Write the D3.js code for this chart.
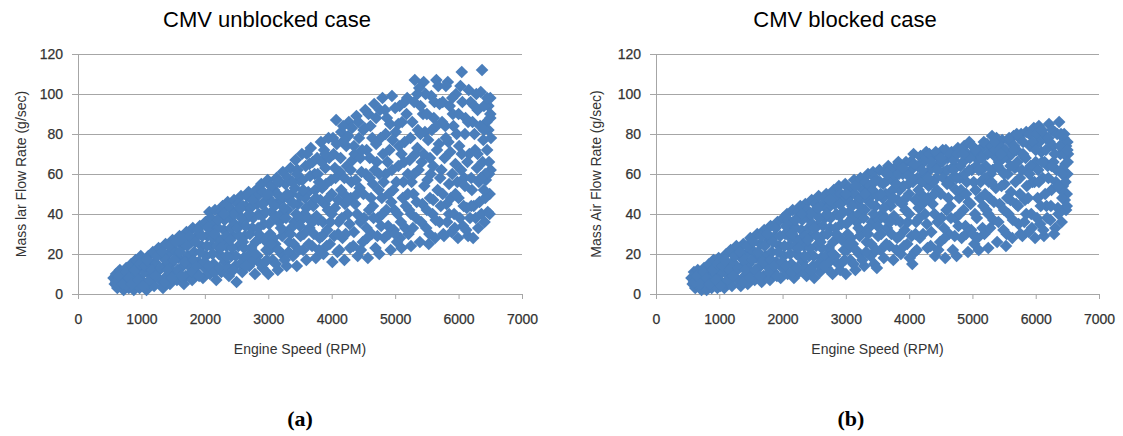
<!DOCTYPE html>
<html>
<head>
<meta charset="utf-8">
<script src="https://cdn.jsdelivr.net/npm/d3@7"></script>
<style>
  body { margin: 0; background: #fff; }
  svg { display: block; }
  .tick text { font-family: 'Liberation Sans', Arial, sans-serif; font-size: 14px; fill: #333; stroke: #333; stroke-width: 0.25px; }
</style>
</head>
<body>
<div id="chart"></div>
<script>
(function(window, d3){
  'use strict';

  var xTicks = [0, 1000, 2000, 3000, 4000, 5000, 6000, 7000];
  var yTicks = [0, 20, 40, 60, 80, 100, 120];
  var panelTitles = ['CMV unblocked case', 'CMV blocked case'];
  var yTitles = ['Mass lar Flow Rate  (g/sec)', 'Mass Air Flow Rate  (g/sec)'];
  var xTitle = 'Engine Speed (RPM)';
  var captions = ['(a)', '(b)'];

  // engine speed (rpm), mass air flow (g/s)
  var unblockedPoints = [
    [560,8],[580,5],[600,10],[620,3],[640,7],[660,12],[680,4],[700,9],
    [720,2],[740,6],[760,13],[780,10],[800,3],[820,7],[840,15],[860,11],[880,2],[900,5],[910,17],[930,9],
    [950,13],[970,3],[990,19],[1000,7],[1030,16],[1050,11],[1080,2],[1100,5],[1110,19],[1140,13],[1160,9],[1180,21],[1200,4],[1210,16],
    [1250,11],[1270,23],[1290,7],[1320,19],[1340,3],[1360,14],[1380,25],[1400,9],[1420,20],[1450,5],[1470,15],[1490,27],[1500,11],[1520,22],
    [1560,7],[1580,18],[1600,29],[1620,13],[1650,24],[1670,5],[1700,9],[1710,31],[1730,19],[1750,14],[1780,26],[1800,7],[1810,33],[1830,21],
    [1860,11],[1880,29],[1900,16],[1920,34],[1950,24],[1970,8],[2000,13],[2010,36],[2020,19],[2040,29],[2070,41],[2080,10],[2100,24],[2110,33],
    [2140,15],[2160,42],[2180,7],[2200,28],[2220,20],[2240,38],[2260,11],[2280,44],[2300,32],[2320,16],[2340,24],[2360,46],[2380,9],[2400,38],
    [2420,19],[2440,29],[2460,47],[2480,14],[2500,6],[2510,41],[2530,24],[2550,34],[2570,49],[2590,11],[2610,18],[2630,29],[2650,44],[2670,38],[2690,51],[2700,14],
    [2730,23],[2750,33],[2770,47],[2790,10],[2810,52],[2830,19],[2850,40],[2870,28],[2890,55],[2910,13],[2930,35],[2950,46],[2970,22],[2990,57],[3000,10],
    [3030,30],[3050,41],[3070,17],[3090,52],[3110,25],[3130,58],[3150,12],[3170,36],[3190,47],[3210,20],[3230,61],[3250,31],[3270,55],[3290,14],[3300,42],
    [3330,26],[3350,63],[3370,50],[3390,19],[3410,36],[3430,67],[3450,14],[3470,45],[3490,57],[3510,29],[3530,70],[3550,22],[3570,40],[3590,64],[3600,17],
    [3630,51],[3650,33],[3670,73],[3690,24],[3710,44],[3730,60],[3750,18],[3770,68],[3790,37],[3810,28],[3830,76],[3850,53],[3870,20],[3890,45],[3900,63],
    [3930,32],[3950,78],[3970,25],[3990,57],[4010,16],[4030,70],[4050,43],[4070,87],[4090,21],[4110,36],[4130,61],[4150,81],[4170,28],[4190,50],[4200,17],
    [4230,74],[4250,40],[4270,86],[4290,23],[4310,56],[4330,67],[4350,31],[4370,45],[4390,89],[4410,19],[4430,78],[4450,36],[4470,61],[4490,26],[4500,50],
    [4530,92],[4550,72],[4570,18],[4590,42],[4610,84],[4630,30],[4650,55],[4670,95],[4690,23],[4710,66],[4730,38],[4750,20],[4770,78],[4790,48],[4800,98],
    [4830,28],[4850,60],[4870,88],[4890,34],[4910,72],[4930,22],[4950,99],[4970,52],[4990,42],[5010,81],[5030,26],[5050,64],[5070,94],[5090,36],[5100,23],
    [5130,56],[5150,76],[5170,44],[5190,98],[5210,30],[5230,67],[5250,24],[5270,86],[5290,50],[5310,107],[5330,38],[5350,73],[5370,62],[5390,26],[5400,94],
    [5430,45],[5450,106],[5470,81],[5490,33],[5510,57],[5530,25],[5550,68],[5570,99],[5590,40],[5610,88],[5630,28],[5650,107],[5670,52],[5690,75],[5700,36],
    [5730,62],[5750,96],[5770,29],[5790,84],[5810,45],[5830,106],[5850,55],[5870,71],[5890,31],[5910,90],[5930,40],[5950,65],[5970,80],[5990,28],[6000,48],
    [6030,104],[6050,111],[6070,34],[6090,58],[6110,88],[6130,43],[6150,29],[6170,70],[6190,96],[6210,52],[6230,28],[6250,80],[6270,38],[6290,63],[6300,92],
    [6330,46],[6350,101],[6370,112],[6390,77],[6410,36],[6430,57],[6440,86],[6460,41],[6470,94],[6480,66],[6490,50],[6500,88],[6510,78],[6500,98],[6480,60],
    [600,6],[650,9],[700,5],[750,11],[800,8],[850,5],[900,12],[950,7],[980,15],
    [1020,4],[1060,14],[1090,17],[1130,7],[1170,12],[1220,9],[1240,19],[1300,13],[1330,21],[1370,6],[1390,17],
    [1410,12],[1440,24],[1480,8],[1510,17],[1540,26],[1570,12],[1610,21],[1640,9],[1660,28],[1690,16],[1720,24],[1760,29],[1790,11],[1820,17],
    [1850,26],[1870,14],[1890,32],[1910,9],[1930,21],[1960,29],[1990,16],[2030,24],[2050,33],[2060,14],[2090,38],[2120,20],[2130,28],[2150,11],[2170,36],[2190,24],
    [2210,33],[2230,13],[2250,41],[2270,27],[2290,18],[2310,37],[2330,44],[2350,29],[2370,13],[2390,43],[2410,33],[2430,23],[2450,40],[2470,35],[2490,19],[2520,45],[2540,29],[2560,15],[2580,38],[2600,44],
    [2620,23],[2640,34],[2660,49],[2680,19],[2710,30],[2720,43],[2740,16],[2760,38],[2780,51],[2800,26],[2820,45],[2840,33],[2860,50],[2880,15],[2900,39],[2920,51],[2940,27],[2960,41],[2980,17],[2995,48],
    [3010,35],[3020,22],[3040,54],[3060,46],[3080,28],[3100,38],[3120,15],[3140,50],[3160,22],[3180,56],[3200,40],[3220,29],[3240,48],[3260,17],[3280,38],[3310,58],[3320,21],[3340,47],[3360,33],[3380,56],[3400,25],
    [3420,53],[3440,40],[3460,62],[3480,22],[3500,49],[3520,37],[3540,57],[3560,30],[3580,48],[3610,70],[3620,38],[3640,25],[3660,59],[3680,45],[3700,66],[3720,30],[3740,52],[3760,39],[3780,60],[3800,22],
    [3820,47],[3840,66],[3860,36],[3880,72],[3910,55],[3920,24],[3940,42],[3960,68],[3980,36],[4000,50],[4020,78],[4040,29],[4060,58],[4080,75],[4100,47],[4120,22],[4140,68],[4160,38],[4180,84],[4200,58],
    [4210,45],[4220,30],[4240,64],[4260,79],[4280,35],[4300,48],[4320,83],[4340,24],[4360,70],[4380,57],[4400,40],[4420,86],[4440,53],[4460,22],[4480,72],[4510,38],[4520,83],[4540,60],[4560,28],[4580,90],
    [4600,68],[4620,48],[4640,78],[4660,38],[4680,62],[4700,88],[4720,29],[4740,52],[4760,92],[4780,34],[4810,70],[4820,56],[4840,92],[4860,42],[4880,66],[4900,30],[4920,85],[4940,46],[4960,77],[4980,32],
    [5000,93],[5020,56],[5040,40],[5060,74],[5080,28],[5110,86],[5120,48],[5140,66],[5160,33],[5180,90],[5200,60],[5220,42],[5240,78],[5260,56],[5280,33],[5300,96],[5320,70],[5340,46],[5360,82],[5380,103],
    [5410,36],[5420,66],[5440,90],[5460,54],[5480,100],[5500,42],[5520,77],[5540,30],[5560,60],[5580,82],[5600,47],[5620,96],[5640,37],[5660,72],[5680,104],[5710,58],[5720,44],[5740,86],[5760,30],[5780,68],
    [5800,104],[5820,36],[5840,76],[5860,94],[5880,48],[5900,60],[5920,84],[5940,33],[5960,100],[5980,56],[6010,74],[6020,38],[6040,62],[6060,96],[6080,44],[6100,80],[6120,32],[6140,66],[6160,102],[6180,38],
    [6200,58],[6220,86],[6240,44],[6260,72],[6280,100],[6310,33],[6320,56],[6340,84],[6360,40],[6380,66],[6400,94],[6420,48],[6450,72],[6470,82],[6490,40],[6505,62],[6500,90],[6450,98],[6420,60],[6400,52],
    [2150,30],[2200,37],[2250,23],[2300,40],[2350,19],[2400,27],[2450,12],[2500,33],[2550,43],[2600,26],[2650,14],[2700,40],[2750,47],[2800,20],[2850,30],[2900,45],[2950,16],[3000,50],
    [3050,25],[3100,44],[3150,56],[3200,33],[3250,43],[3300,50],[3350,30],[3400,45],[3450,60],[3500,34],[3550,52],[3600,43],[3650,65],[3700,36],[3750,48],[3800,56],[3850,29],[3900,70],
    [3950,48],[4000,40],[4050,63],[4100,30],[4150,52],[4200,77],[4250,47],[4300,62],[4350,74],[4400,50],[4450,68],[4500,82],[4550,33],[4600,58],[4650,44],[4700,75],[4750,60],[4800,40],
    [4850,80],[4900,50],[4950,62],[5000,30],[5050,85],[5100,70],[5150,96],[5200,50],[5250,40],[5300,60],[5350,100],[5400,80],[5450,70],[5500,90],[5550,48],[5600,64],[5650,84],[5700,95],
    [5750,50],[5800,78],[5850,40],[5900,98],[5950,50],[6000,90],[6050,70],[6100,54],[6150,86],[6200,44],[6250,94],[6300,70],[6350,58],[6400,82]
  ];

  var blockedPoints = [
    [560,8],[580,5],[600,11],[620,3],[640,7],[660,12],[680,4],[700,9],
    [720,2],[740,6],[760,13],[780,10],[800,2],[820,7],[840,15],[860,11],[880,3],[900,5],[910,17],[930,9],
    [950,13],[970,3],[990,18],[1000,7],[1030,15],[1050,11],[1080,3],[1100,5],[1110,20],[1140,13],[1160,9],[1180,22],[1200,4],[1210,16],
    [1250,11],[1270,24],[1290,7],[1320,19],[1340,4],[1360,14],[1380,25],[1400,9],[1420,20],[1450,5],[1470,15],[1490,28],[1500,11],[1520,22],
    [1560,7],[1580,18],[1600,30],[1620,13],[1650,25],[1670,6],[1700,9],[1710,32],[1730,19],[1750,14],[1780,27],[1800,7],[1810,34],[1830,21],
    [1860,11],[1880,29],[1900,16],[1920,36],[1950,24],[1970,8],[2000,13],[2010,38],[2020,19],[2040,30],[2070,40],[2080,10],[2100,24],[2110,33],
    [2140,15],[2160,42],[2180,8],[2200,28],[2220,20],[2240,38],[2260,11],[2280,44],[2300,32],[2320,16],[2340,24],[2360,45],[2380,9],[2400,38],
    [2420,19],[2440,29],[2460,47],[2480,14],[2500,8],[2510,41],[2530,24],[2550,34],[2570,49],[2590,11],[2610,18],[2630,29],[2650,44],[2670,38],[2690,50],[2700,13],
    [2730,23],[2750,33],[2770,46],[2790,10],[2810,52],[2830,19],[2850,40],[2870,28],[2890,54],[2910,12],[2930,35],[2950,46],[2970,22],[2990,55],[3000,10],
    [3030,30],[3050,41],[3070,17],[3090,50],[3110,25],[3130,57],[3150,12],[3170,36],[3190,46],[3210,20],[3230,58],[3250,31],[3270,52],[3290,14],[3300,42],
    [3330,26],[3350,60],[3370,48],[3390,19],[3410,36],[3430,61],[3450,15],[3470,44],[3490,13],[3510,29],[3530,62],[3550,22],[3570,40],[3590,55],[3600,18],
    [3630,50],[3650,33],[3670,64],[3690,24],[3710,44],[3730,57],[3750,17],[3770,63],[3790,37],[3810,28],[3830,66],[3850,52],[3870,20],[3890,45],[3900,60],
    [3930,32],[3950,66],[3970,25],[3990,55],[4010,18],[4030,62],[4050,15],[4070,70],[4090,21],[4110,36],[4130,58],[4150,43],[4170,28],[4190,50],[4200,68],
    [4230,66],[4250,40],[4270,71],[4290,23],[4310,54],[4330,62],[4350,31],[4370,45],[4390,69],[4410,19],[4430,58],[4450,36],[4470,65],[4490,26],[4500,50],
    [4530,72],[4550,61],[4570,18],[4590,42],[4610,68],[4630,30],[4650,55],[4670,71],[4690,22],[4710,64],[4730,38],[4750,19],[4770,73],[4790,48],[4800,58],
    [4830,28],[4850,66],[4870,74],[4890,34],[4910,56],[4930,21],[4950,76],[4970,45],[4990,62],[5010,70],[5030,25],[5050,52],[5070,38],[5090,67],[5100,22],
    [5130,56],[5150,73],[5170,44],[5190,30],[5210,64],[5230,75],[5250,23],[5270,48],[5290,60],[5310,79],[5330,37],[5350,69],[5370,53],[5390,26],[5400,74],
    [5430,45],[5450,62],[5470,77],[5490,32],[5510,55],[5530,24],[5550,68],[5570,40],[5590,76],[5610,51],[5630,28],[5650,79],[5670,63],[5690,45],[5700,72],
    [5730,35],[5750,58],[5770,80],[5790,29],[5810,69],[5830,47],[5850,81],[5870,62],[5890,31],[5910,74],[5930,40],[5950,56],[5970,83],[5990,28],[6000,66],
    [6030,48],[6050,84],[6070,35],[6090,71],[6110,58],[6130,29],[6150,79],[6170,44],[6190,64],[6210,85],[6230,37],[6250,52],[6270,74],[6290,30],[6300,81],
    [6330,62],[6350,43],[6370,86],[6390,70],[6410,36],[6430,54],[6440,78],[6460,47],[6470,65],[6480,74],[6490,50],[6500,60],[6510,70],[6500,76],[6480,42],
    [600,6],[650,9],[700,5],[750,11],[800,8],[850,5],[900,12],[950,7],[980,15],
    [1020,4],[1060,14],[1090,17],[1130,7],[1170,12],[1220,9],[1240,19],[1300,13],[1330,21],[1370,6],[1390,17],
    [1410,12],[1440,24],[1480,8],[1510,17],[1540,26],[1570,12],[1610,21],[1640,9],[1660,29],[1690,16],[1720,24],[1760,30],[1790,11],[1820,17],
    [1850,26],[1870,14],[1890,33],[1910,9],[1930,21],[1960,29],[1990,16],[2030,24],[2050,34],[2060,14],[2090,37],[2120,20],[2130,28],[2150,11],[2170,36],[2190,24],
    [2210,33],[2230,13],[2250,41],[2270,27],[2290,18],[2310,37],[2330,43],[2350,29],[2370,13],[2390,42],[2410,33],[2430,23],[2450,40],[2470,35],[2490,19],[2520,45],[2540,29],[2560,15],[2580,38],[2600,44],
    [2620,23],[2640,34],[2660,48],[2680,19],[2710,30],[2720,43],[2740,16],[2760,38],[2780,50],[2800,26],[2820,45],[2840,33],[2860,49],[2880,15],[2900,39],[2920,50],[2940,27],[2960,41],[2980,17],[2995,48],
    [3010,35],[3020,22],[3040,53],[3060,46],[3080,28],[3100,38],[3120,15],[3140,50],[3160,22],[3180,55],[3200,40],[3220,29],[3240,48],[3260,17],[3280,38],[3310,56],[3320,21],[3340,47],[3360,33],[3380,54],[3400,25],
    [3420,52],[3440,40],[3460,58],[3480,22],[3500,49],[3520,37],[3540,56],[3560,30],[3580,48],[3610,61],[3620,38],[3640,25],[3660,57],[3680,45],[3700,62],[3720,30],[3740,52],[3760,39],[3780,59],[3800,22],
    [3820,47],[3840,60],[3860,36],[3880,64],[3910,54],[3920,24],[3940,42],[3960,60],[3980,36],[4000,50],[4020,66],[4040,29],[4060,56],[4080,65],[4100,47],[4120,22],[4140,64],[4160,38],[4180,69],[4200,56],
    [4210,45],[4220,30],[4240,60],[4260,68],[4280,35],[4300,48],[4320,70],[4340,24],[4360,64],[4380,56],[4400,40],[4420,71],[4440,52],[4460,22],[4480,68],[4510,38],[4520,66],[4540,58],[4560,28],[4580,72],
    [4600,62],[4620,48],[4640,70],[4660,38],[4680,58],[4700,67],[4720,29],[4740,52],[4760,70],[4780,34],[4810,64],[4820,52],[4840,72],[4860,42],[4880,60],[4900,30],[4920,70],[4940,46],[4960,68],[4980,32],
    [5000,74],[5020,56],[5040,40],[5060,64],[5080,28],[5110,72],[5120,48],[5140,62],[5160,33],[5180,76],[5200,58],[5220,42],[5240,70],[5260,56],[5280,33],[5300,74],[5320,62],[5340,46],[5360,72],[5380,78],
    [5410,36],[5420,66],[5440,74],[5460,54],[5480,68],[5500,42],[5520,72],[5540,30],[5560,60],[5580,78],[5600,47],[5620,70],[5640,37],[5660,74],[5680,56],[5710,66],[5720,44],[5740,78],[5760,30],[5780,62],
    [5800,76],[5820,36],[5840,68],[5860,54],[5880,48],[5900,80],[5920,64],[5940,33],[5960,74],[5980,56],[6010,80],[6020,38],[6040,62],[6060,76],[6080,44],[6100,82],[6120,32],[6140,66],[6160,72],[6180,38],
    [6200,58],[6220,76],[6240,44],[6260,82],[6280,66],[6310,33],[6320,56],[6340,80],[6360,40],[6380,74],[6400,62],[6420,48],[6450,70],[6470,56],[6490,44],[6505,66],[6500,72],[6450,80],[6420,60],[6400,52],
    [2150,30],[2200,37],[2250,23],[2300,40],[2350,19],[2400,27],[2450,12],[2500,33],[2550,43],[2600,26],[2650,14],[2700,40],[2750,47],[2800,20],[2850,30],[2900,45],[2950,16],[3000,50],
    [3050,25],[3100,44],[3150,54],[3200,33],[3250,43],[3300,50],[3350,30],[3400,45],[3450,56],[3500,34],[3550,50],[3600,43],[3650,60],[3700,36],[3750,48],[3800,55],[3850,29],[3900,63],
    [3950,48],[4000,40],[4050,58],[4100,30],[4150,52],[4200,62],[4250,47],[4300,58],[4350,66],[4400,50],[4450,62],[4500,68],[4550,33],[4600,55],[4650,44],[4700,62],[4750,58],[4800,40],
    [4850,70],[4900,50],[4950,62],[5000,30],[5050,72],[5100,62],[5150,68],[5200,50],[5250,40],[5300,56],[5350,76],[5400,64],[5450,70],[5500,60],[5550,48],[5600,64],[5650,72],[5700,80],
    [5750,50],[5800,70],[5850,40],[5900,60],[5950,76],[6000,72],[6050,56],[6100,66],[6150,50],[6200,78],[6250,64],[6300,70],[6350,54],[6400,80]
  ];

  var width = 1123, height = 436;
  var markerColor = '#4a7ebb';
  var gridColor = '#a6a6a6';
  var textColor = '#333';

  // square turned 45deg, like the excel marker
  var diamond = {
    draw: function(ctx, size) {
      var r = Math.sqrt(size / 2);
      ctx.moveTo(0, -r);
      ctx.lineTo(r, 0);
      ctx.lineTo(0, r);
      ctx.lineTo(-r, 0);
      ctx.closePath();
    }
  };

  var svg = d3.select('#chart').append('svg')
    .attr('width', width)
    .attr('height', height);

  var drawPanel = function(opts) {
    var x = d3.scaleLinear().domain([0, 7000]).range([opts.left, opts.right]);
    var y = d3.scaleLinear().domain([0, 120]).range([294, 54]);
    var g = svg.append('g');

    // grid + y labels
    var yAxis = d3.axisLeft(y)
      .tickValues(yTicks)
      .tickSizeInner(-(opts.right - opts.left))
      .tickSizeOuter(0)
      .tickPadding(15)
      .tickFormat(d3.format('d'));

    var yg = g.append('g')
      .attr('transform', 'translate(' + opts.left + ',0)')
      .call(yAxis);
    yg.select('.domain').attr('stroke', gridColor);
    yg.selectAll('.tick line').attr('stroke', gridColor).attr('x1', -6);

    var xAxis = d3.axisBottom(x)
      .tickValues(xTicks)
      .tickSizeInner(5)
      .tickSizeOuter(0)
      .tickPadding(15)
      .tickFormat(d3.format('d'));

    var xg = g.append('g')
      .attr('transform', 'translate(0,' + y(0) + ')')
      .call(xAxis);
    xg.select('.domain').attr('stroke', gridColor);
    xg.selectAll('.tick line').attr('stroke', gridColor);

    g.append('g')
      .selectAll('path')
      .data(opts.data)
      .enter()
      .append('path')
      .attr('d', d3.symbol().type(diamond).size(80))
      .attr('transform', function(d) { return 'translate(' + x(d[0]) + ',' + y(d[1]) + ')'; })
      .attr('fill', markerColor);

    g.append('text')
      .attr('x', opts.titleX)
      .attr('y', 27)
      .attr('text-anchor', 'middle')
      .style('font-family', "'Liberation Sans', Arial, sans-serif")
      .style('font-size', '22px')
      .attr('fill', '#000')
      .text(opts.title);

    g.append('text')
      .attr('transform', 'translate(' + opts.yTitleX + ',174) rotate(-90)')
      .attr('text-anchor', 'middle')
      .style('font-family', "'Liberation Sans', Arial, sans-serif")
      .style('font-size', '14px')
      .attr('fill', textColor)
      .text(opts.yTitle);

    g.append('text')
      .attr('x', (opts.left + opts.right) / 2)
      .attr('y', 354)
      .attr('text-anchor', 'middle')
      .style('font-family', "'Liberation Sans', Arial, sans-serif")
      .style('font-size', '14px')
      .attr('fill', textColor)
      .text(xTitle);

    g.append('text')
      .attr('x', opts.captionX)
      .attr('y', 426)
      .attr('text-anchor', 'middle')
      .style('font-family', "'Liberation Serif', 'Times New Roman', serif")
      .style('font-size', '22px')
      .style('font-weight', 'bold')
      .attr('fill', '#000')
      .text(opts.caption);
  };

  drawPanel({ left: 78, right: 522, data: unblockedPoints, title: panelTitles[0], titleX: 267,
    yTitle: yTitles[0], yTitleX: 26, caption: captions[0], captionX: 300 });
  drawPanel({ left: 656, right: 1099, data: blockedPoints, title: panelTitles[1], titleX: 845,
    yTitle: yTitles[1], yTitleX: 601, caption: captions[1], captionX: 851 });

})(window, window.d3);
</script>
</body>
</html>
